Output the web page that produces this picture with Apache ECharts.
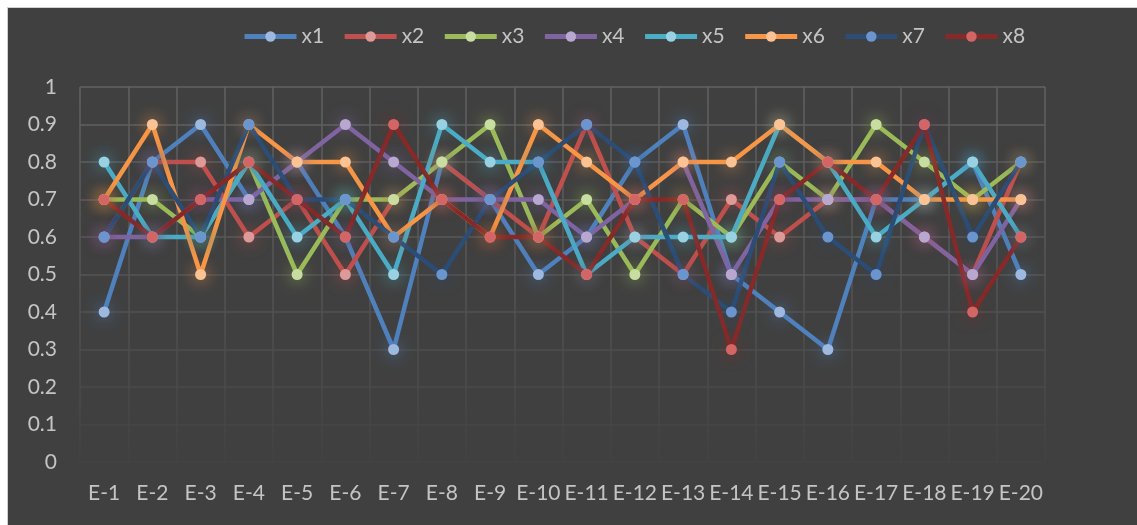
<!DOCTYPE html>
<html>
<head>
<meta charset="utf-8">
<title>x1-x8 line chart</title>
<script src="https://cdn.jsdelivr.net/npm/echarts@6/dist/echarts.min.js"></script>
<style>
    html, body { margin: 0; padding: 0; background: #ffffff; }
    #frame { position: absolute; left: 7px; top: 7px; width: 1130px; height: 518px; background: #404040; border-left: 1px solid #d0d0d0; border-top: 1px solid #d0d0d0; }
    #main { position: absolute; left: 0; top: 0; width: 1137px; height: 525px; }
</style>
</head>
<body>
<div id="frame"></div>
<div id="main"></div>
<script>
    // 横轴分类
    let categories = ['E-1', 'E-2', 'E-3', 'E-4', 'E-5', 'E-6', 'E-7', 'E-8', 'E-9', 'E-10',
        'E-11', 'E-12', 'E-13', 'E-14', 'E-15', 'E-16', 'E-17', 'E-18', 'E-19', 'E-20'];

    // 每条折线的数据（从图上读出来的）
    let x1 = [0.4, 0.8, 0.9, 0.7, 0.8, 0.6, 0.3, 0.8, 0.7, 0.5, 0.6, 0.8, 0.9, 0.5, 0.4, 0.3, 0.7, 0.7, 0.8, 0.5];
    let x2 = [0.6, 0.8, 0.8, 0.6, 0.7, 0.5, 0.7, 0.8, 0.7, 0.6, 0.9, 0.6, 0.5, 0.7, 0.6, 0.7, 0.7, 0.6, 0.5, 0.8];
    let x3 = [0.7, 0.7, 0.6, 0.8, 0.5, 0.7, 0.7, 0.8, 0.9, 0.6, 0.7, 0.5, 0.7, 0.6, 0.8, 0.7, 0.9, 0.8, 0.7, 0.8];
    let x4 = [0.6, 0.6, 0.7, 0.7, 0.8, 0.9, 0.8, 0.7, 0.7, 0.7, 0.6, 0.7, 0.8, 0.5, 0.7, 0.7, 0.7, 0.6, 0.5, 0.7];
    let x5 = [0.8, 0.6, 0.6, 0.8, 0.6, 0.7, 0.5, 0.9, 0.8, 0.8, 0.5, 0.6, 0.6, 0.6, 0.9, 0.8, 0.6, 0.7, 0.8, 0.6];
    let x6 = [0.7, 0.9, 0.5, 0.9, 0.8, 0.8, 0.6, 0.7, 0.6, 0.9, 0.8, 0.7, 0.8, 0.8, 0.9, 0.8, 0.8, 0.7, 0.7, 0.7];
    let x7 = [0.6, 0.8, 0.6, 0.9, 0.7, 0.7, 0.6, 0.5, 0.7, 0.8, 0.9, 0.8, 0.5, 0.4, 0.8, 0.6, 0.5, 0.9, 0.6, 0.8];
    let x8 = [0.7, 0.6, 0.7, 0.8, 0.7, 0.6, 0.9, 0.7, 0.6, 0.6, 0.5, 0.7, 0.7, 0.3, 0.7, 0.8, 0.7, 0.9, 0.4, 0.6];

    let seriesNames = ['x1', 'x2', 'x3', 'x4', 'x5', 'x6', 'x7', 'x8'];
    let seriesData = [x1, x2, x3, x4, x5, x6, x7, x8];

    // 线的颜色 / 点的颜色（点比线浅一些）
    let lineColors = ['#4F81BD', '#C0504D', '#9BBB59', '#8064A2', '#4BACC6', '#F79646', '#2C4D75', '#862A29'];
    let dotColors = ['#9DB9E0', '#DE9A98', '#C8DDA0', '#B8A7CF', '#98D2E2', '#FBC393', '#6A95CF', '#D36665'];

    let labelColor = '#c4c4c4';
    let fontFamily = 'Lato, "Open Sans", sans-serif';

    // 网格线从上往下渐隐
    let gridFade = {
        type: 'linear', x: 0, y: 87, x2: 0, y2: 462, global: true,
        colorStops: [
            {offset: 0, color: '#626262'},
            {offset: 0.5, color: '#555555'},
            {offset: 1, color: '#424242'}
        ]
    };

    let series = [];
    for (let i = 0; i < seriesNames.length; i++) {
        series.push({
            name: seriesNames[i],
            type: 'line',
            data: seriesData[i],
            symbol: 'circle',
            symbolSize: 11,
            showSymbol: true,
            lineStyle: {
                color: lineColors[i],
                width: 4.5
            },
            itemStyle: {
                color: dotColors[i],
                borderWidth: 0,
                shadowBlur: 16,
                shadowColor: lineColors[i]
            },
            emphasis: {disabled: true}
        });
    }

    let option = {
        animation: false,
        backgroundColor: 'transparent',
        legend: {
            data: seriesNames,
            left: 237,
            top: 21,
            itemWidth: 52,
            itemHeight: 13,
            itemGap: 18,
            lineStyle: {width: 5},
            textStyle: {
                color: labelColor,
                fontSize: 21,
                fontFamily: fontFamily
            }
        },
        grid: {
            left: 80,
            right: 92,
            top: 87,
            bottom: 63,
            containLabel: false
        },
        xAxis: {
            type: 'category',
            data: categories,
            boundaryGap: true,
            axisLine: {show: false},
            axisTick: {show: false},
            axisLabel: {
                color: labelColor,
                fontSize: 21,
                fontFamily: fontFamily,
                margin: 21,
                interval: 0
            },
            splitLine: {
                show: true,
                interval: 0,
                lineStyle: {color: gridFade, width: 1.5}
            }
        },
        yAxis: {
            type: 'value',
            min: 0,
            max: 1,
            interval: 0.1,
            axisLine: {show: false},
            axisTick: {show: false},
            axisLabel: {
                color: labelColor,
                fontSize: 21,
                fontFamily: fontFamily,
                margin: 23,
                formatter: function (v) {
                    return String(+v.toFixed(1));
                }
            },
            splitLine: {
                show: true,
                lineStyle: {color: gridFade, width: 1.5}
            }
        },
        series: series
    };

    let myChart = echarts.init(document.getElementById('main'));
    myChart.setOption(option);
</script>
</body>
</html>
